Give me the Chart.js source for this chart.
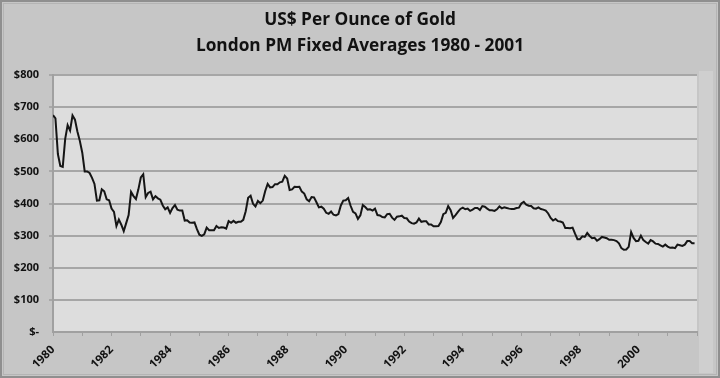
<!DOCTYPE html>
<html>
<head>
<meta charset="utf-8">
<script src="https://cdn.jsdelivr.net/npm/chart.js@4.4.1/dist/chart.umd.min.js"></script>
<style>
  html, body { margin: 0; padding: 0; background: #c6c6c6; }
  #wrap { width: 720px; height: 378px; position: relative; }
</style>
</head>
<body>
<div id="wrap"><canvas id="c" width="720" height="378"></canvas></div>
<script>
// Chart text
const titleLines = ['US$ Per Ounce of Gold', 'London PM Fixed Averages 1980 - 2001'];
const startYear = 1980;
const endYear = 2002;
// Y tick labels (values -> text)
const yTickValues = [0, 100, 200, 300, 400, 500, 600, 700, 800];
const yTickLabels = ['$-', '$100', '$200', '$300', '$400', '$500', '$600', '$700', '$800'];
// X labels shown every two years
const xLabelYears = [1980, 1982, 1984, 1986, 1988, 1990, 1992, 1994, 1996, 1998, 2000];

// Monthly average price, US$ per ounce (Jan..Dec for each year)
const p1980 = [675, 665, 554, 517, 514, 601, 644, 627, 674, 661, 624, 595];
const p1981 = [558, 500, 500, 495, 480, 461, 409, 410, 444, 438, 413, 410];
const p1982 = [384, 374, 330, 350, 334, 314, 339, 364, 436, 423, 414, 444];
const p1983 = [481, 491, 420, 433, 437, 413, 423, 416, 412, 394, 382, 388];
const p1984 = [371, 386, 395, 381, 378, 378, 347, 348, 341, 340, 341, 320];
const p1985 = [303, 299, 304, 325, 317, 317, 317, 330, 324, 326, 325, 322];
const p1986 = [345, 340, 346, 340, 343, 343, 349, 376, 418, 424, 399, 391];
const p1987 = [408, 401, 409, 439, 461, 450, 451, 460, 460, 466, 468, 486];
const p1988 = [478, 442, 444, 452, 451, 452, 437, 431, 413, 407, 420, 419];
const p1989 = [404, 388, 390, 384, 371, 368, 375, 365, 363, 367, 394, 409];
const p1990 = [410, 417, 393, 374, 369, 352, 363, 395, 389, 381, 382, 378];
const p1991 = [384, 364, 363, 358, 357, 367, 368, 356, 349, 359, 360, 362];
const p1992 = [355, 354, 344, 339, 337, 341, 353, 343, 345, 345, 335, 335];
const p1993 = [329, 329, 330, 342, 367, 371, 392, 379, 355, 364, 374, 383];
const p1994 = [387, 382, 384, 377, 381, 386, 386, 380, 392, 390, 384, 379];
const p1995 = [379, 377, 382, 391, 385, 388, 386, 384, 383, 383, 386, 387];
const p1996 = [400, 405, 396, 393, 392, 385, 384, 388, 383, 381, 378, 369];
const p1997 = [355, 347, 352, 345, 344, 341, 324, 324, 323, 325, 306, 289];
const p1998 = [289, 298, 296, 308, 299, 292, 293, 284, 289, 296, 294, 292];
const p1999 = [287, 287, 286, 283, 276, 261, 256, 257, 265, 311, 293, 283];
const p2000 = [284, 300, 286, 280, 275, 286, 282, 275, 274, 270, 266, 272];
const p2001 = [266, 262, 263, 261, 272, 270, 268, 272, 283, 283, 276, 276];

const yearly = [p1980, p1981, p1982, p1983, p1984, p1985, p1986, p1987, p1988, p1989, p1990,
                p1991, p1992, p1993, p1994, p1995, p1996, p1997, p1998, p1999, p2000, p2001];

const points = [];
yearly.forEach((arr, yi) => {
  arr.forEach((v, m) => points.push({ x: startYear + yi + m / 12, y: v }));
});

const FONT = '"Open Sans", "DejaVu Sans", sans-serif';

const bgPlugin = {
  id: 'bg',
  beforeDraw(chart) {
    const { ctx, chartArea: a, width, height } = chart;
    ctx.save();
    ctx.fillStyle = '#c6c6c6';
    ctx.fillRect(0, 0, width, height);
    // lighter strip to the right of plot
    ctx.fillStyle = '#cfcfcf';
    ctx.fillRect(a.right + 2, a.top - 4, 14, height - a.top - 1);
    // frame
    ctx.strokeStyle = '#8f8f8f';
    ctx.lineWidth = 2;
    ctx.strokeRect(1, 1, width - 2, height - 2);
    ctx.strokeStyle = '#b4b4b4';
    ctx.lineWidth = 1;
    ctx.strokeRect(3.5, 3.5, width - 7, height - 7);
    // plot area
    ctx.fillStyle = '#dddddd';
    ctx.fillRect(a.left, a.top, a.right - a.left, a.bottom - a.top);
    ctx.restore();
  }
};

const titlePlugin = {
  id: 'centerTitle',
  afterDraw(chart) {
    const { ctx, width } = chart;
    ctx.save();
    ctx.fillStyle = '#111111';
    ctx.font = 'bold 17.3px ' + FONT;
    ctx.textAlign = 'center';
    ctx.textBaseline = 'middle';
    ctx.fillText(titleLines[0], width / 2, 20);
    ctx.fillText(titleLines[1], width / 2, 46);
    ctx.restore();
  }
};

new Chart(document.getElementById('c'), {
  type: 'line',
  data: {
    datasets: [{
      data: points,
      borderColor: '#151515',
      borderWidth: 2,
      pointRadius: 0,
      tension: 0,
      fill: false
    }]
  },
  options: {
    responsive: false,
    animation: false,
    events: [],
    layout: { padding: { left: 6, right: 23, top: 75, bottom: 4 } },
    plugins: {
      legend: { display: false },
      tooltip: { enabled: false },
      title: { display: false }
    },
    scales: {
      x: {
        type: 'linear',
        min: startYear,
        max: endYear,
        afterBuildTicks(scale) {
          const t = [];
          for (let y = startYear; y <= endYear; y++) t.push({ value: y });
          scale.ticks = t;
        },
        ticks: {
          autoSkip: false,
          maxRotation: 45,
          minRotation: 45,
          padding: 7,
          color: '#111111',
          font: { family: FONT, size: 11.5, weight: 'bold' },
          callback: (v) => xLabelYears.includes(v) ? String(v) : ''
        },
        grid: {
          display: true,
          drawOnChartArea: false,
          drawTicks: true,
          tickLength: 4,
          tickColor: '#a0a0a0'
        },
        border: { display: true, color: '#a0a0a0', width: 2 },
        afterFit(scale) { scale.height = 42; }
      },
      y: {
        min: 0,
        max: 800,
        afterBuildTicks(scale) {
          const t = [];
          for (let v = 0; v <= 800; v += 50) t.push({ value: v });
          scale.ticks = t;
        },
        ticks: {
          padding: 10,
          color: '#111111',
          font: { family: FONT, size: 11, weight: 'bold' },
          callback: (v) => {
            const i = yTickValues.indexOf(v);
            return i >= 0 ? yTickLabels[i] : '';
          }
        },
        grid: {
          drawTicks: true,
          tickLength: 4,
          lineWidth: (ctx) => (ctx.tick && ctx.tick.value % 100 === 0 && ctx.tick.value > 0) ? 2 : 0,
          color: '#a6a6a6',
          tickColor: '#a8a8a8'
        },
        border: { display: true, color: '#a0a0a0', width: 2 },
        afterFit(scale) { scale.width = 47; }
      }
    }
  },
  plugins: [bgPlugin, titlePlugin]
});
</script>
</body>
</html>
